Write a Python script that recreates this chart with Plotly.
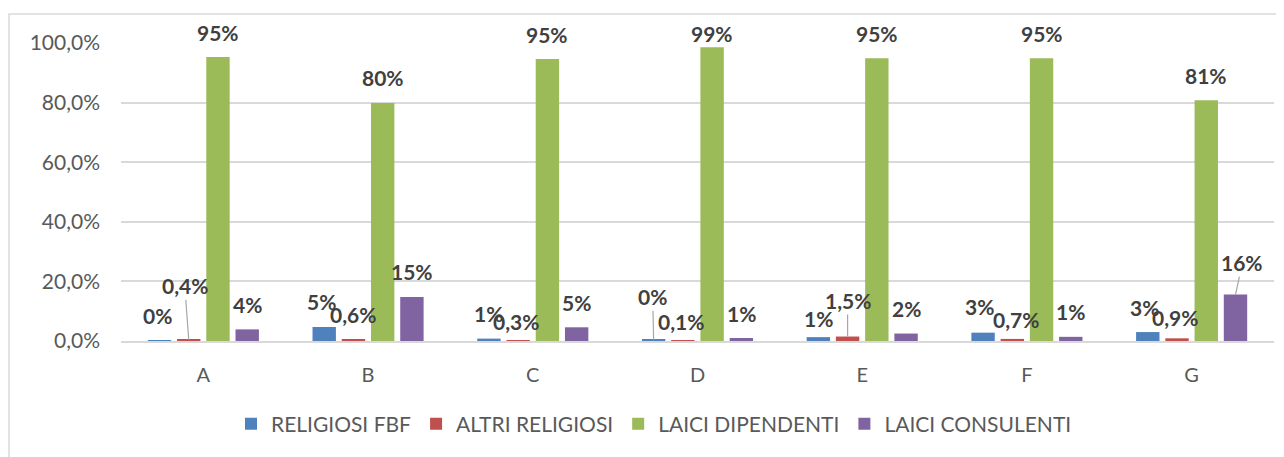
import plotly.graph_objects as go

categories = ["A", "B", "C", "D", "E", "F", "G"]
series_names = ["RELIGIOSI FBF", "ALTRI RELIGIOSI", "LAICI DIPENDENTI", "LAICI CONSULENTI"]
religiosi_fbf = [0.003, 0.047, 0.008, 0.004, 0.013, 0.028, 0.030]
altri_religiosi = [0.004, 0.006, 0.003, 0.001, 0.015, 0.007, 0.009]
laici_dipendenti = [0.953, 0.799, 0.946, 0.986, 0.949, 0.949, 0.808]
laici_consulenti = [0.039, 0.148, 0.046, 0.010, 0.025, 0.014, 0.156]
y_ticks = [0, 0.2, 0.4, 0.6, 0.8, 1.0]

colors = ["#4F81BD", "#C0504D", "#9BBB59", "#8064A2"]
decimals = [0, 1, 0, 0]
all_series = [religiosi_fbf, altri_religiosi, laici_dipendenti, laici_consulenti]

FONT = "Lato"
PAGE = 8  # default body margin of the page
W, H = 1284 - PAGE, 457 - PAGE
ML, MR, MT, MB = 121 - PAGE, 18 - PAGE, 43 - PAGE, 116
BARGAP, GROUPGAP = 0.29, 0.2

fig = go.Figure()
for name, vals, col in zip(series_names, all_series, colors):
    fig.add_trace(go.Bar(x=categories, y=vals, name=name, marker_color=col,
                         marker_line_width=0, hoverinfo="skip"))

# label offsets (dx, dy above bar top in px, leader line)
default_off = (0, 25, False)
label_off = {
    (0, 0): (-2, 25, False), (1, 0): (-4, 54, True),
    (0, 1): (-3, 25, False),
    (1, 2): (-2, 19, False),
    (0, 3): (-1, 43, True), (1, 3): (-2, 19, False), (2, 3): (0, 14, False),
    (0, 4): (0, 19, False), (1, 4): (0, 36, True),
    (0, 5): (-4, 26, False), (1, 5): (4, 19, False),
    (0, 6): (-3, 25, False), (1, 6): (-2, 21, False), (3, 6): (7, 32, True),
}

plot_w = W - ML - MR
plot_h = H - MT - MB
cat_w = plot_w / len(categories)
slot = cat_w * (1 - BARGAP) / len(all_series)

def fmt(v, d):
    s = f"{v * 100:.{d}f}%"
    return s.replace(".", ",")

annotations = []
for i, vals in enumerate(all_series):
    for j, v in enumerate(vals):
        dx, dy, leader = label_off.get((i, j), default_off)
        annotations.append(dict(
            x=categories[j], y=v, xref="x", yref="y",
            xshift=(i - 1.5) * slot,
            text=f"<b>{fmt(v, decimals[i])}</b>",
            showarrow=True, arrowhead=0, arrowwidth=1.2,
            arrowcolor="#A6A6A6" if leader else "rgba(0,0,0,0)",
            ax=dx, ay=-dy, standoff=0, startstandoff=0,
            font=dict(family=FONT, size=21, color="#404040"),
        ))

# chart border (in page pixels -> paper coords)
def px_x(p):
    return (p - PAGE - ML) / plot_w

def px_y(p):
    return (H - MB - (p - PAGE)) / plot_h

fig.add_shape(type="rect", xref="paper", yref="paper",
              x0=px_x(9), x1=px_x(1300), y0=px_y(470), y1=px_y(14),
              line=dict(color="#D9D9D9", width=1.5), layer="below")

fig.update_layout(
    width=W, height=H,
    margin=dict(l=ML, r=MR, t=MT, b=MB, autoexpand=False),
    paper_bgcolor="white", plot_bgcolor="white",
    barmode="group", bargap=BARGAP, bargroupgap=GROUPGAP,
    separators=",.",
    font=dict(family=FONT, color="#595959", size=20),
    annotations=annotations,
    showlegend=True,
    legend=dict(orientation="h", x=px_x(654), xanchor="center",
                y=px_y(424), yanchor="middle",
                font=dict(family=FONT, size=21, color="#595959"),
                itemwidth=30, traceorder="normal"),
)
fig.update_xaxes(showgrid=False, showline=True, linecolor="#D9D9D9", linewidth=1.5,
                 ticks="", ticklabelstandoff=15, tickfont=dict(size=20, color="#595959"))
fig.update_yaxes(range=[0, 1.0], tickvals=y_ticks, tickformat=".1%",
                 showgrid=True, gridcolor="#D9D9D9", gridwidth=1.5,
                 zeroline=False, showline=False, ticks="", ticklabelstandoff=20,
                 tickfont=dict(size=21, color="#595959"))

fig.write_html("out.html")
